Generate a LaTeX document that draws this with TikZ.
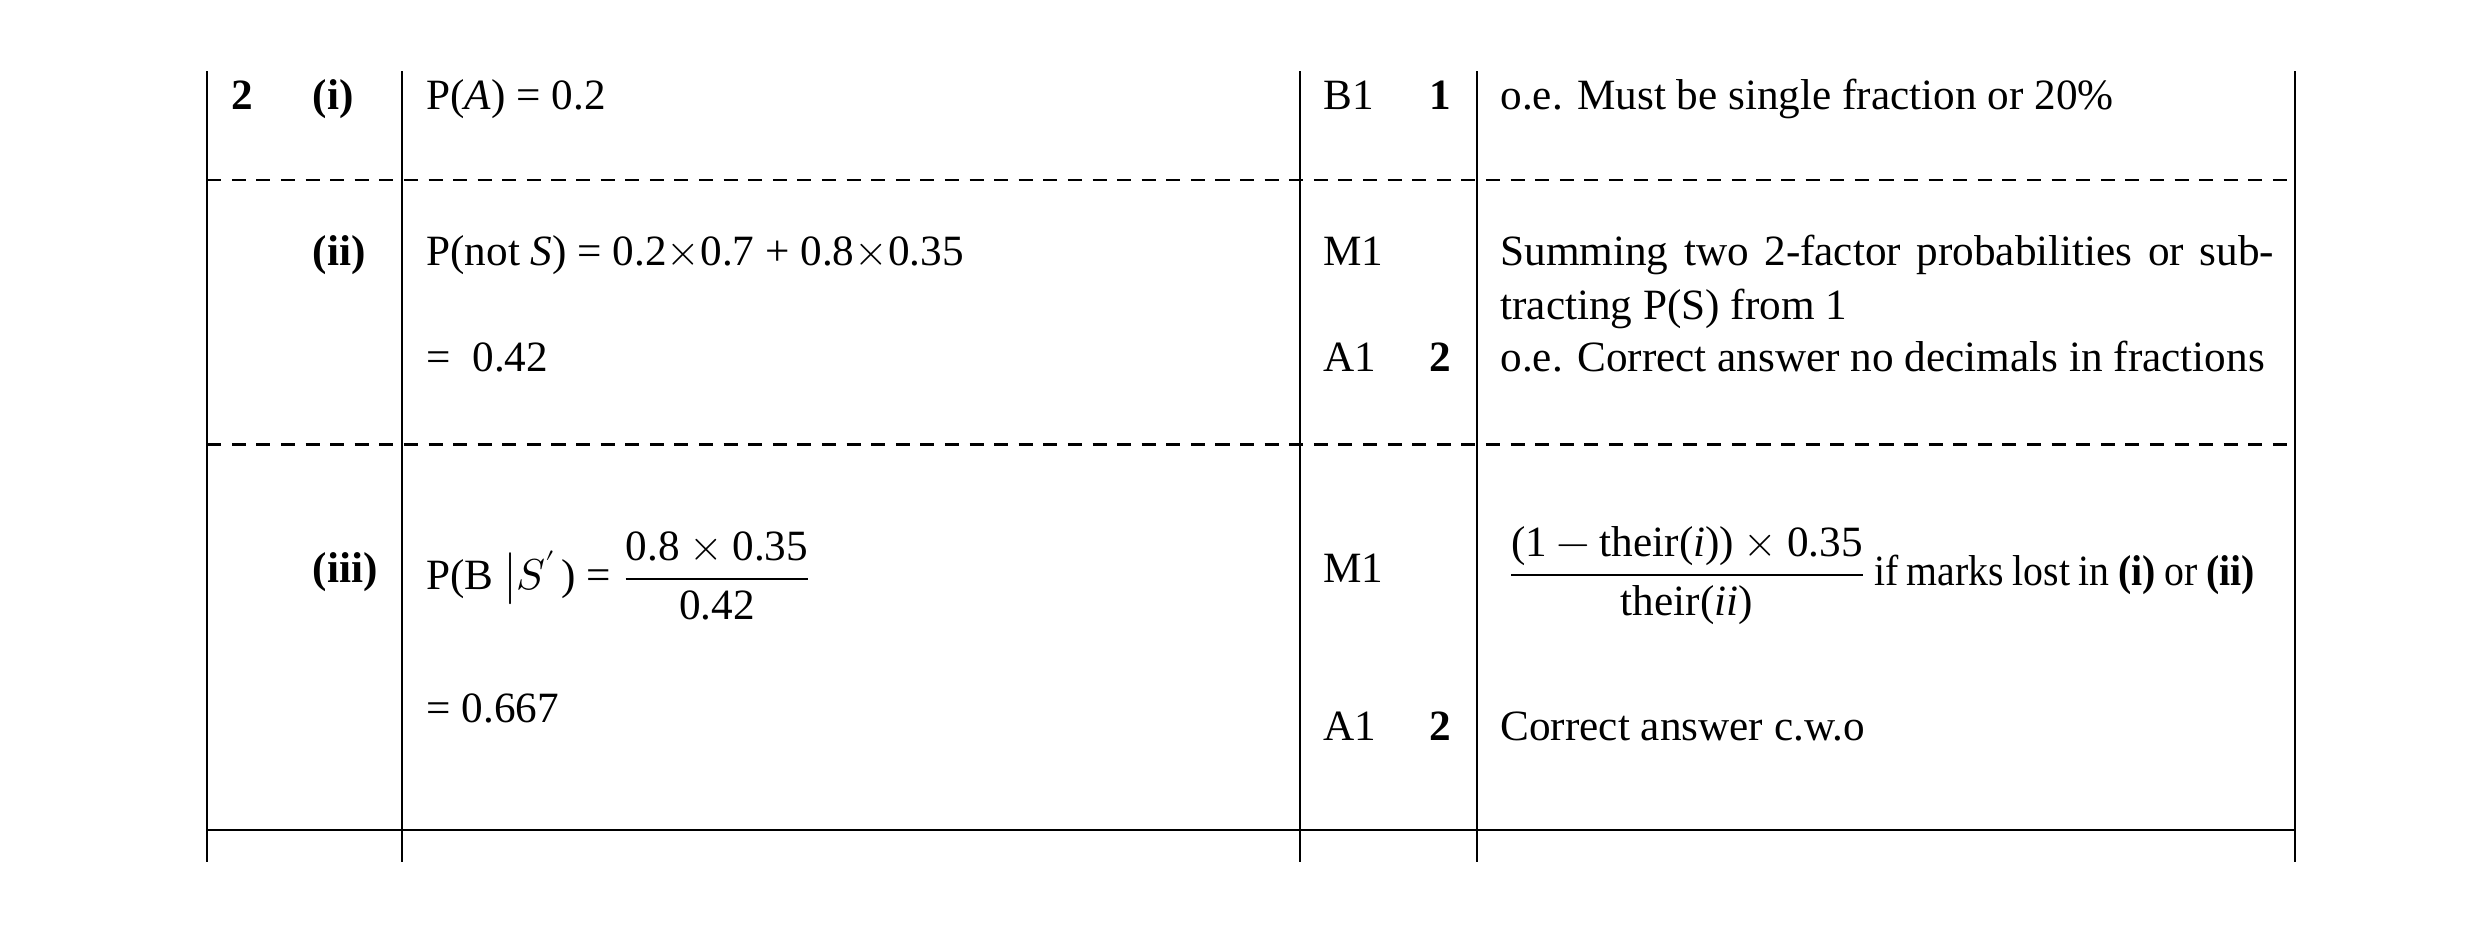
\documentclass[tikz,border=0pt]{standalone}
\usepackage{amsmath}
\usepackage{fontspec}
\setmainfont{Liberation Serif}
\usepackage{unicode-math}
\setmathfont{Latin Modern Math}
\setmathrm{Liberation Serif}
\usetikzlibrary{positioning}

\begin{document}
\begin{tikzpicture}[x=0.01582cm, y=-0.01582cm, semithick,
  font=\fontsize{12.3}{15.3}\selectfont]
\tikzset{txt/.style={anchor=base west, inner sep=0pt},
         col/.style={line width=0.6pt},
         sep/.style={line width=0.6pt, dash pattern=on 4pt off 3pt}}
\useasboundingbox (0,0) rectangle (1568,593);

% grid
\foreach \x in {131,254,822,934,1451}
  \draw[col] (\x,45) -- (\x,545);
\draw[sep] (131,114) -- (1451,114);
\draw[sep] (131,281) -- (1451,281);
\draw[col] (131,525) -- (1451,525);

% part (i)
\node[txt] (q)   at (146,69) {\textbf{2}};
\node[txt] (pi)  at (197,69) {\textbf{(i)}};
\node[txt] (ai)  at (269,69) {P(\textit{A}) = 0.2};
\node[txt] (mi)  at (836,69) {B1};
\node[txt] (ti)  at (903,69) {\textbf{1}};
\node[txt] (ci)  at (948,69) {o.e. Must be single fraction or 20\%};

% part (ii)
\node[txt] (pii)  at (197,168) {\textbf{(ii)}};
\node[txt] (aii)  at (269,168) {P(not \textit{S}) = 0.2$\times$0.7 + 0.8$\times$0.35};
\node[txt] (aii2) at (269,235) {=\ \ 0.42};
\node[txt] (mii)  at (836,168) {M1};
\node[txt] (mii2) at (836,235) {A1};
\node[txt] (tii)  at (903,235) {\textbf{2}};
\node[anchor=north west, inner sep=0pt, text width=7.74cm, align=justify]
  (cii) at (948,148) {Summing two 2-factor probabilities or subtracting P(S) from 1};
\node[anchor=north west, inner sep=0pt, text width=7.74cm, align=justify]
  (cii2) at (948,215) {o.e. Correct answer no decimals in fractions};

% part (iii)
\node[txt] (piii) at (197,368) {\textbf{(iii)}};
\node[anchor=west, inner sep=0pt] (aiii) at (269,364)
  {P(B $\left|S'\right.$) = $\dfrac{\text{0.8}\times\text{0.35}}{\text{0.42}}$};
\node[txt] (aiii2) at (269,457) {= 0.667};
\node[txt] (miii)  at (836,368) {M1};
\node[txt] (miii2) at (836,468) {A1};
\node[txt] (tiii)  at (903,468) {\textbf{2}};
\node[anchor=west, inner sep=0pt] (ciii) at (952,364)
  {$\dfrac{\text{(1} - \text{their(}\textit{i}\text{))}\times\text{0.35}}{\text{their(}\textit{ii}\text{)}}$\,{\addfontfeature{FakeStretch=0.92}\spaceskip=0.2em if marks lost in \textbf{(i)} or \textbf{(ii)}}};
\node[txt] (ciii2) at (948,468) {Correct answer c.w.o};
\end{tikzpicture}
\end{document}
